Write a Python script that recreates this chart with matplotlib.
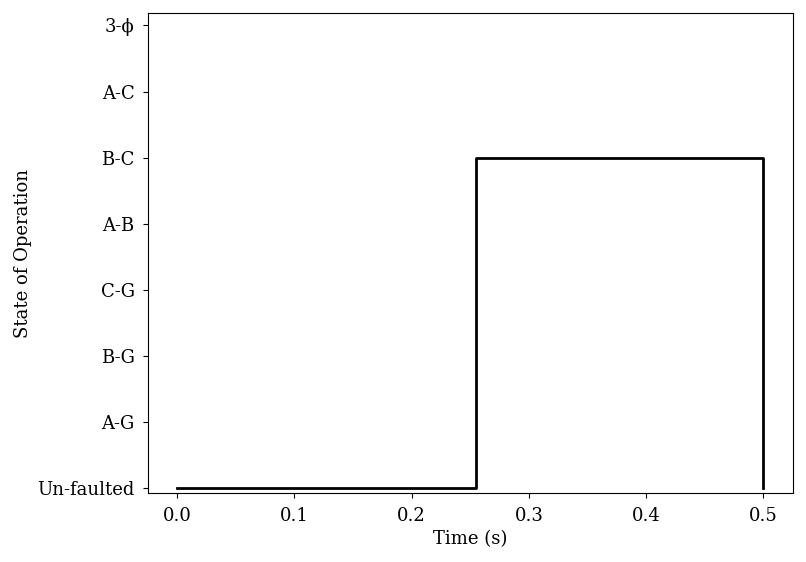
import matplotlib
matplotlib.use("Agg")
import matplotlib.pyplot as plt

plt.rcParams['font.family'] = ['DejaVu Serif']
plt.rcParams['font.size'] = 13

states = ["Un-faulted", "A-G", "B-G", "C-G", "A-B", "B-C", "A-C", "3-ϕ"]
times = [0.0, 0.255, 0.255, 0.5, 0.5]
state_idx = [0, 0, 5, 5, 0]

fig = plt.figure(figsize=(8.06, 5.62), dpi=100)
ax = fig.add_axes([0.1833, 0.122, 0.8002, 0.855])
ax.plot(times, state_idx, color='black', linewidth=2)
ax.set_yticks(range(len(states)))
ax.set_yticklabels(states)
ax.set_xticks([0.0, 0.1, 0.2, 0.3, 0.4, 0.5])
ax.tick_params(axis='both', pad=6)
ax.set_xlim(-0.025, 0.525)
ax.set_ylim(-0.08, 7.19)
ax.set_xlabel("Time (s)")
ax.set_ylabel("State of Operation")
fig.savefig("out.png", dpi=100)
